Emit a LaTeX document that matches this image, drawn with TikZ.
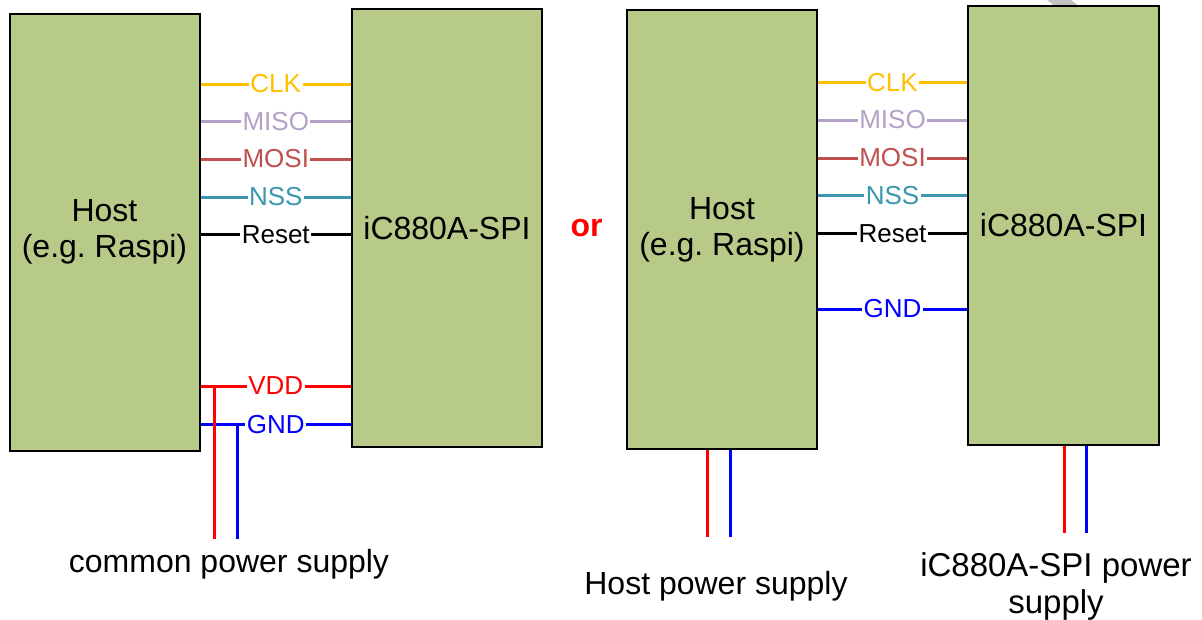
\documentclass[tikz,border=0pt]{standalone}
\usepackage{fontspec}
\setmainfont{Liberation Sans}
\definecolor{boxfill}{RGB}{183,202,136}
\definecolor{clkc}{HTML}{FFC000}
\definecolor{misoc}{HTML}{B3A2C7}
\definecolor{mosic}{HTML}{C0504D}
\definecolor{nssc}{HTML}{3B97AE}
\definecolor{vddc}{HTML}{FF0000}
\definecolor{gndc}{HTML}{0000FF}
\definecolor{artc}{RGB}{195,195,195}
\begin{document}
\begin{tikzpicture}[x=1pt,y=-1pt,
  box/.style={draw=black, line width=2pt, fill=boxfill, inner sep=0pt, align=center,
    font=\fontsize{32}{36}\selectfont},
  sig/.style={line width=3pt},
  lbl/.style={fill=white, inner sep=1.5pt, font=\fontsize{26}{30}\selectfont},
  txt/.style={font=\fontsize{32}{36}\selectfont, align=center, inner sep=0pt}]
\useasboundingbox (0,0) rectangle (1202,619);
\fill[white] (0,0) rectangle (1202,619);
% faint artifact at top
\fill[artc] (1047,0) -- (1071,0) -- (1080,7) -- (1056,7) -- cycle;

% ---------- left diagram ----------
\node[box, minimum width=190pt, minimum height=437pt] (hL) at (104.5,232) {Host\\(e.g.\ Raspi)};
\node[box, minimum width=190pt, minimum height=437.5pt] (iL) at (447,227.75) {iC880A-SPI};

\draw[sig, clkc]  (hL.east |- 0,84)    -- node[lbl, text=clkc]{CLK}   (iL.west |- 0,84);
\draw[sig, misoc] (hL.east |- 0,121.5) -- node[lbl, text=misoc]{MISO} (iL.west |- 0,121.5);
\draw[sig, mosic] (hL.east |- 0,159)   -- node[lbl, text=mosic]{MOSI} (iL.west |- 0,159);
\draw[sig, nssc]  (hL.east |- 0,197)   -- node[lbl, text=nssc]{NSS}   (iL.west |- 0,197);
\draw[sig, black] (hL.east |- 0,234.5) -- node[lbl, text=black]{Reset} (iL.west |- 0,234.5);
\draw[sig, gndc]  (hL.east |- 0,424.5) -- node[lbl, text=gndc]{GND}   (iL.west |- 0,424.5);
\draw[sig, vddc]  (hL.east |- 0,386)   -- node[lbl, text=vddc]{VDD}   (iL.west |- 0,386);

\coordinate (vjL) at (214.5,386);
\coordinate (gjL) at (237.5,424.5);
\coordinate (veL) at (214.5,539);
\coordinate (geL) at (237.5,539);
\draw[sig, gndc] (gjL) -- (geL);
\draw[sig, vddc] (vjL) -- (veL);

\node[txt, anchor=base] (cps) at (229,572) {common power supply};

% ---------- or ----------
\node[txt, text=vddc, font=\fontsize{32}{36}\selectfont\bfseries] (or) at (586.5,228) {or};

% ---------- right diagram ----------
\node[box, minimum width=190pt, minimum height=439pt] (hR) at (722,229.5) {Host\\(e.g.\ Raspi)};
\node[box, minimum width=191pt, minimum height=439pt] (iR) at (1063.5,225.5) {iC880A-SPI};

\draw[sig, clkc]  (hR.east |- 0,82.5)  -- node[lbl, text=clkc]{CLK}   (iR.west |- 0,82.5);
\draw[sig, misoc] (hR.east |- 0,120)   -- node[lbl, text=misoc]{MISO} (iR.west |- 0,120);
\draw[sig, mosic] (hR.east |- 0,158)   -- node[lbl, text=mosic]{MOSI} (iR.west |- 0,158);
\draw[sig, nssc]  (hR.east |- 0,195.5) -- node[lbl, text=nssc]{NSS}   (iR.west |- 0,195.5);
\draw[sig, black] (hR.east |- 0,233.3) -- node[lbl, text=black]{Reset} (iR.west |- 0,233.3);
\draw[sig, gndc]  (hR.east |- 0,309)   -- node[lbl, text=gndc]{GND}   (iR.west |- 0,309);

\coordinate (hRv) at (707,537);
\coordinate (hRg) at (730,537);
\draw[sig, vddc] (hR.south -| hRv) -- (hRv);
\draw[sig, gndc] (hR.south -| hRg) -- (hRg);

\coordinate (iRv) at (1064,533);
\coordinate (iRg) at (1086,533);
\draw[sig, vddc] (iR.south -| iRv) -- (iRv);
\draw[sig, gndc] (iR.south -| iRg) -- (iRg);

\node[txt, anchor=base] (hps) at (716,594) {Host power supply};
\node[txt, font=\fontsize{33}{37}\selectfont] (ips) at (1056,586) {iC880A-SPI power\\supply};
\end{tikzpicture}
\end{document}
